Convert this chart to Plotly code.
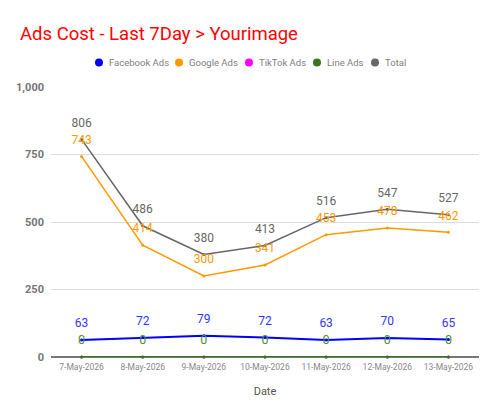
import plotly.graph_objects as go

dates = ["7-May-2026", "8-May-2026", "9-May-2026", "10-May-2026",
         "11-May-2026", "12-May-2026", "13-May-2026"]
facebook = [63, 72, 79, 72, 63, 70, 65]
google = [743, 414, 300, 341, 453, 478, 462]
tiktok = [0, 0, 0, 0, 0, 0, 0]
line_ads = [0, 0, 0, 0, 0, 0, 0]
total = [806, 486, 380, 413, 516, 547, 527]

names = ["Facebook Ads", "Google Ads", "TikTok Ads", "Line Ads", "Total"]
colors = ["#0000ff", "#ff9900", "#ff00ff", "#38761d", "#666666"]
label_colors = ["#3333ff", "#ff9900", "#ff00ff", "#4e8f2e", "#666666"]
series = [facebook, google, tiktok, line_ads, total]
show_labels = [True, True, False, True, True]
widths = [2, 1.5, 1.5, 2, 1.5]

# plot area in pixels (layout only)
L, R, T, B = 51, 21, 87, 58
W, H = 500, 415
PW, PH = W - L - R, H - T - B

def px2paper_x(px):
    return (px - L) / PW

def px2paper_y(py):
    return (H - B - py) / PH

fig = go.Figure()
order = [2, 3, 0, 1, 4]
for i in order:
    fig.add_trace(go.Scatter(
        x=dates, y=series[i], name=names[i], mode="lines+markers",
        line=dict(color=colors[i], width=widths[i]),
        marker=dict(size=3, color=colors[i]),
        showlegend=False, cliponaxis=False, hoverinfo="skip",
    ))
for i in order:
    if not show_labels[i]:
        continue
    fig.add_trace(go.Scatter(
        x=dates, y=series[i], mode="markers+text",
        marker=dict(size=14, opacity=0),
        text=[str(v) for v in series[i]],
        textposition="top center",
        textfont=dict(family="Roboto", size=12.5 if i == 3 else 12, color=label_colors[i]),
        showlegend=False, cliponaxis=False, hoverinfo="skip",
    ))

# manual legend
legend_dot_px = [99, 179, 249, 317, 375]
legend_y_px = 62.5
shapes = []
annotations = []
for i in range(5):
    cx = px2paper_x(legend_dot_px[i])
    cy = px2paper_y(legend_y_px)
    shapes.append(dict(type="circle", xref="paper", yref="paper",
                       xsizemode="pixel", ysizemode="pixel",
                       xanchor=cx, yanchor=cy, x0=-4, x1=4, y0=-4, y1=4,
                       fillcolor=colors[i], line=dict(width=0)))
    annotations.append(dict(text=names[i], xref="paper", yref="paper",
                            x=px2paper_x(legend_dot_px[i] + 8), y=cy,
                            xanchor="left", yanchor="middle", showarrow=False,
                            font=dict(family="Roboto", size=9.5, color="#808080")))

fig.update_layout(
    width=W, height=H,
    paper_bgcolor="white", plot_bgcolor="white",
    margin=dict(l=L, r=R, t=T, b=B),
    font=dict(family="Roboto", color="#757575"),
    title=dict(text="Ads Cost - Last 7Day > Yourimage", x=0.04, xanchor="left",
               y=0.92, yanchor="middle",
               font=dict(family="Roboto", size=18.5, color="#ff0000")),
    showlegend=False,
    shapes=shapes,
    annotations=annotations,
    xaxis=dict(title=dict(text="Date", font=dict(size=11, color="#555555"), standoff=16),
               tickfont=dict(size=8.5, color="#888888"), showgrid=False,
               range=[-0.5, 6.5], ticks="", showline=False, ticklabelstandoff=3),
    yaxis=dict(range=[0, 1000], tickvals=[0, 250, 500, 750, 1000],
               tickformat=",", gridcolor="#dddddd", gridwidth=1,
               tickfont=dict(size=11, color="#757575", weight="bold"),
               zeroline=True, zerolinecolor="#777777", zerolinewidth=2,
               ticklabelstandoff=6),
)

fig.write_html("out.html")
